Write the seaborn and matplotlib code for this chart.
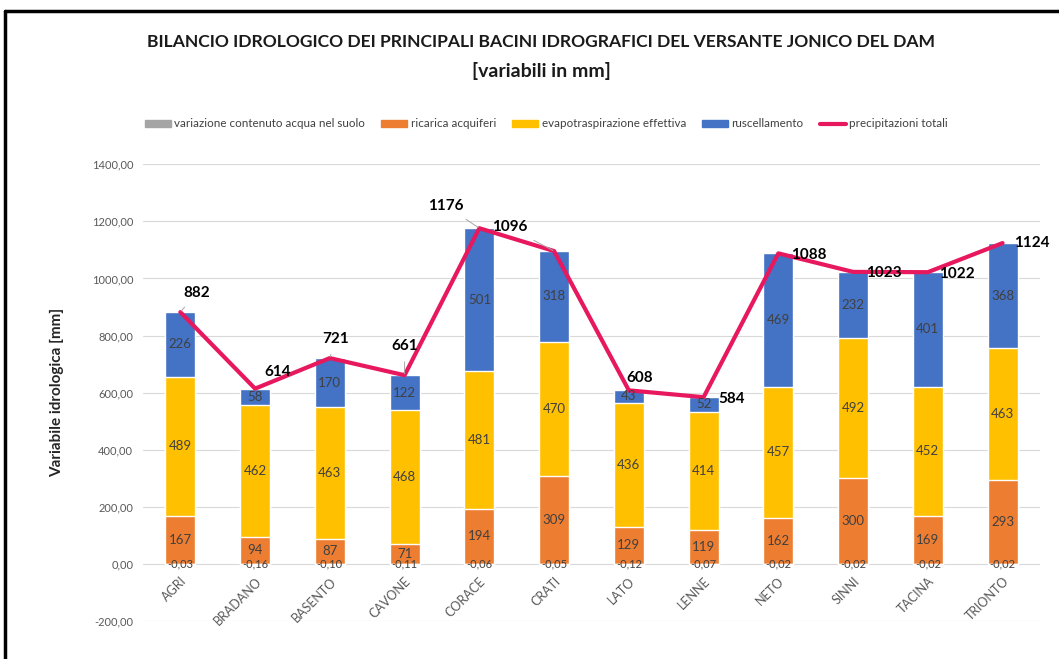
import numpy as np
import pandas as pd
import matplotlib
matplotlib.use("Agg")
import matplotlib.pyplot as plt
import seaborn as sns
from matplotlib.patches import Patch
from matplotlib.lines import Line2D

# ==========================
# Data
# ==========================
bacini = ["AGRI", "BRADANO", "BASENTO", "CAVONE", "CORACE", "CRATI",
          "LATO", "LENNE", "NETO", "SINNI", "TACINA", "TRIONTO"]
variazione = [-0.03, -0.16, -0.10, -0.11, -0.06, -0.05,
              -0.12, -0.07, -0.02, -0.02, -0.02, -0.02]
ricarica = [167, 94, 87, 71, 194, 309, 129, 119, 162, 300, 169, 293]
evapotraspirazione = [489, 462, 463, 468, 481, 470, 436, 414, 457, 492, 452, 463]
ruscellamento = [226, 58, 170, 122, 501, 318, 43, 52, 469, 232, 401, 368]
precipitazioni = [882, 614, 721, 661, 1176, 1096, 608, 584, 1088, 1023, 1022, 1124]

# label offsets (points) for the totals, and whether a leader line is drawn
label_dx = [12, 16, 4, 0, -24, -32, 8, 20, 22, 22, 21, 21]
label_dy = [14, 12, 14, 21, 16, 17, 9, -1, -1, -1, -1, 0]
leader = [True, False, True, True, True, True, False, False, False, False, False, False]

df = pd.DataFrame({
    "bacino": bacini,
    "variazione": variazione,
    "ricarica": ricarica,
    "evapo": evapotraspirazione,
    "ruscellamento": ruscellamento,
    "precipitazioni": precipitazioni,
})
df["top_evapo"] = df["ricarica"] + df["evapo"]
df["top_rusc"] = df["top_evapo"] + df["ruscellamento"]

# ==========================
# Style
# ==========================
sns.set_theme(style="white")
plt.rcParams["font.family"] = ["Lato", "DejaVu Sans"]

c_gray = "#A5A5A5"
c_orange = "#ED7D31"
c_yellow = "#FFC000"
c_blue = "#4472C4"
c_line = "#E8185E"
txt = "#404040"

fig = plt.figure(figsize=(10.59, 6.59), dpi=100)
ax = fig.add_axes([0.135, 0.0577, 0.847, 0.693])

# ==========================
# Stacked bars (drawn from the top layer down)
# ==========================
bw = 0.4
sns.barplot(data=df, x="bacino", y="top_rusc", color=c_blue, width=bw,
            saturation=1, ax=ax, zorder=2)
sns.barplot(data=df, x="bacino", y="top_evapo", color=c_yellow, width=bw,
            saturation=1, ax=ax, zorder=2)
sns.barplot(data=df, x="bacino", y="ricarica", color=c_orange, width=bw,
            saturation=1, ax=ax, zorder=2)
sns.barplot(data=df, x="bacino", y="variazione", color=c_gray, width=bw,
            saturation=1, ax=ax, zorder=2)

x = np.arange(len(bacini))
sns.lineplot(x=x, y=df["precipitazioni"], color=c_line, linewidth=3,
             sort=False, ax=ax, zorder=4)

# ==========================
# Labels
# ==========================
for i in range(len(bacini)):
    ax.text(i, ricarica[i] / 2, f"{ricarica[i]}", ha="center", va="center",
            fontsize=9.5, color=txt, zorder=5)
    ax.text(i, ricarica[i] + evapotraspirazione[i] / 2, f"{evapotraspirazione[i]}",
            ha="center", va="center", fontsize=9.5, color=txt, zorder=5)
    ax.text(i, df["top_evapo"][i] + ruscellamento[i] / 2, f"{ruscellamento[i]}",
            ha="center", va="center", fontsize=9.5, color=txt, zorder=5)
    ax.text(i, 0, f"{variazione[i]:.2f}".replace(".", ","), ha="center",
            va="center", fontsize=8, color=txt, zorder=5)

    arrow = dict(arrowstyle="-", color="#A6A6A6", lw=0.7,
                 shrinkA=4, shrinkB=1) if leader[i] else None
    ax.annotate(f"{precipitazioni[i]}", xy=(i, precipitazioni[i]),
                xytext=(label_dx[i], label_dy[i]), textcoords="offset points",
                ha="center", va="center", fontsize=11, fontweight="bold",
                color="black", arrowprops=arrow, zorder=6)

# ==========================
# Axes
# ==========================
# category axis crosses at zero, as in the original
ax.spines["bottom"].set_position(("data", 0))
ax.set_ylim(-200, 1400)
ax.set_xlim(-0.5, len(bacini) - 0.5)
yt = np.arange(-200, 1401, 200)
ax.set_yticks(yt)
ax.set_yticklabels([f"{v:.2f}".replace(".", ",") for v in yt],
                   fontsize=8, color="#595959")
ax.set_xticks(x)
ax.set_xticklabels(bacini, rotation=45, ha="right", rotation_mode="anchor",
                   fontsize=9, color="#595959")
ax.tick_params(axis="y", length=0, pad=7)
ax.tick_params(axis="x", length=0, pad=8)
ax.grid(axis="y", color="#D9D9D9", linewidth=0.8, zorder=0)
ax.set_axisbelow(True)
for s in ax.spines.values():
    s.set_visible(False)
ax.set_xlabel("")
ax.set_ylabel("Variabile idrologica [mm]", fontsize=11, fontweight="bold",
              color="#262626", labelpad=20)

# ==========================
# Title and legend
# ==========================
fig.text(0.511, 0.937,
         "BILANCIO IDROLOGICO DEI PRINCIPALI BACINI IDROGRAFICI DEL VERSANTE JONICO DEL DAM",
         ha="center", va="center", fontsize=12.6, fontweight="bold", color="#1a1a1a")
fig.text(0.511, 0.893, "[variabili in mm]", ha="center", va="center",
         fontsize=14, fontweight="bold", color="#1a1a1a")

handles = [
    Patch(color=c_gray, label="variazione contenuto acqua nel suolo"),
    Patch(color=c_orange, label="ricarica acquiferi"),
    Patch(color=c_yellow, label="evapotraspirazione effettiva"),
    Patch(color=c_blue, label="ruscellamento"),
    Line2D([0], [0], color=c_line, lw=3, label="precipitazioni totali"),
]
leg = fig.legend(handles=handles, loc="center", bbox_to_anchor=(0.516, 0.812),
                 ncol=5, frameon=False, fontsize=8.4, handlelength=2.2,
                 handleheight=0.5, handletextpad=0.3, columnspacing=1.4)
for t in leg.get_texts():
    t.set_color("#404040")

# frame lines (top and left) as in the original picture
fig.add_artist(Line2D([0.005, 1.0], [0.984, 0.984], color="black", lw=2.5,
                      transform=fig.transFigure))
fig.add_artist(Line2D([0.005, 0.005], [0.0, 0.984], color="black", lw=2.5,
                      transform=fig.transFigure))

plt.savefig("out.png", dpi=100)
